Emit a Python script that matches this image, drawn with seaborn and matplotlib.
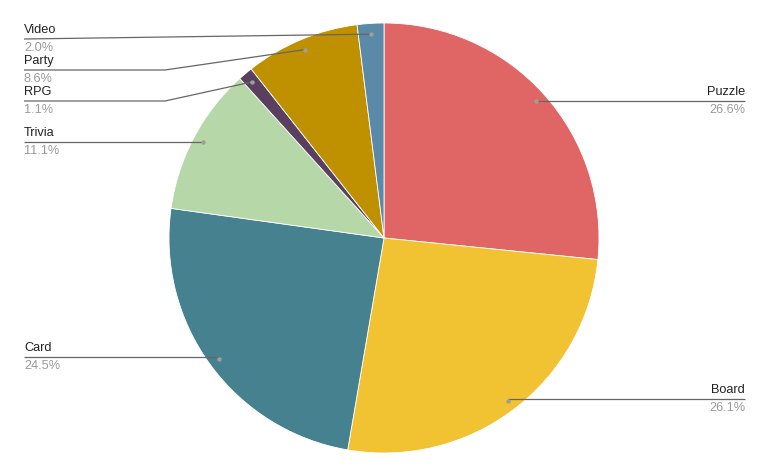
import numpy as np
import seaborn as sns
import matplotlib.pyplot as plt

# Data (clockwise from 12 o'clock)
categories = ['Puzzle', 'Board', 'Card', 'Trivia', 'RPG', 'Party', 'Video']
shares = [26.6, 26.1, 24.5, 11.1, 1.1, 8.6, 2.0]
colors = ['#E06666', '#F1C232', '#45818E', '#B6D7A8', '#5A3F5E', '#BF9000', '#5B89A8']

# label layout (pixel rows of the underline), left column stacked like the original
label_rows = {'Puzzle': 101, 'Board': 399, 'Card': 357, 'Trivia': 142,
              'RPG': 101, 'Party': 70, 'Video': 39}

sns.set_theme(style='white')
plt.rcParams['font.family'] = ['Liberation Sans', 'DejaVu Sans']

W, H = 769, 476
fig = plt.figure(figsize=(W / 100, H / 100), dpi=100)
ax = fig.add_axes([0, 0, 1, 1])

cx, cy, R = 384, H - 238, 215
wedges, _ = ax.pie(shares, colors=colors, startangle=90, counterclock=False,
                   center=(cx, cy), radius=R, frame=True,
                   wedgeprops=dict(edgecolor='white', linewidth=0.6))
ax.set_xlim(0, W)
ax.set_ylim(0, H)
ax.set_aspect('equal')
ax.axis('off')

for w, name, val in zip(wedges, categories, shares):
    mid = np.deg2rad((w.theta1 + w.theta2) / 2)
    px = cx + 0.95 * R * np.cos(mid)
    py = cy + 0.95 * R * np.sin(mid)
    ly = H - label_rows[name]
    if px > cx:
        xs, ys = [px, 745], [ly, ly]
        tx, ha = 745, 'right'
    else:
        if abs(py - ly) > 6:
            xs, ys = [px, 165, 24], [py, ly, ly]
        elif abs(py - ly) > 3:
            xs, ys = [px, 24], [py, ly]
        else:
            xs, ys = [px, 24], [ly, ly]
        tx, ha = 24, 'left'
    ax.plot(xs, ys, color='#666666', lw=0.9, zorder=3, solid_capstyle='butt')
    ax.plot([px], [py], 'o', color='#9e9e9e', ms=3.2, mec='none', zorder=4)
    ax.text(tx, ly + 3, name, ha=ha, va='bottom', fontsize=9.2, color='#222222')
    ax.text(tx, ly - 3, f'{val:.1f}%', ha=ha, va='top', fontsize=9.2, color='#9a9a9a')

fig.savefig('out.png', dpi=100, facecolor='white')
